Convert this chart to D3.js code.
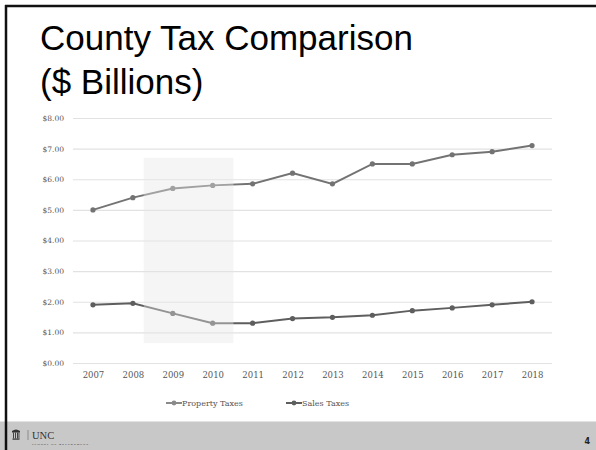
<!DOCTYPE html>
<html>
<head>
<meta charset="utf-8">
<script src="https://cdn.jsdelivr.net/npm/d3@7"></script>
<style>
  body { margin: 0; background: #fff; }
  svg { display: block; }
  .tick text { font-family: "DejaVu Serif", serif; fill: #555; }
</style>
</head>
<body>
<svg id="slide" width="596" height="450"></svg>
<script>
// data
const years = [2007, 2008, 2009, 2010, 2011, 2012, 2013, 2014, 2015, 2016, 2017, 2018];
const propertyTaxes = [5.0, 5.4, 5.7, 5.8, 5.85, 6.2, 5.85, 6.5, 6.5, 6.8, 6.9, 7.1];
const salesTaxes = [1.9, 1.95, 1.62, 1.3, 1.3, 1.45, 1.49, 1.56, 1.71, 1.8, 1.9, 2.0];
const yTicks = [0, 1, 2, 3, 4, 5, 6, 7, 8];
const seriesNames = ["Property Taxes", "Sales Taxes"];
// recession shading (years, dollars)
const shadeYears = [2008.27, 2010.52];
const shadeValues = [0.65, 6.7];

const svg = d3.select("#slide");

// slide frame
svg.append("rect").attr("x", 0).attr("y", 421.5).attr("width", 596).attr("height", 29).attr("fill", "#c8c8c8");
svg.append("line").attr("x1", 5).attr("x2", 596).attr("y1", 6).attr("y2", 6)
  .attr("stroke", "#111").attr("stroke-width", 2.5);
svg.append("line").attr("x1", 6).attr("x2", 6).attr("y1", 5).attr("y2", 450)
  .attr("stroke", "#111").attr("stroke-width", 2.5);

// title
const title = svg.append("text")
  .attr("font-family", "Liberation Sans, Arial, sans-serif")
  .attr("font-size", 35).attr("fill", "#000");
title.append("tspan").attr("x", 40).attr("y", 50).text("County Tax Comparison");
title.append("tspan").attr("x", 40).attr("y", 94).text("($ Billions)");

// chart
const x = d3.scaleLinear().domain([2006.5, 2018.5]).range([73, 552]);
const y = d3.scaleLinear().domain([0, 8]).range([363, 118]);

const yAxis = svg.append("g")
  .attr("transform", `translate(${x.range()[0]},0)`)
  .call(d3.axisLeft(y).tickValues(yTicks).tickFormat(d3.format("$.2f"))
    .tickSize(-(x.range()[1] - x.range()[0])).tickPadding(9));
yAxis.select(".domain").remove();
yAxis.selectAll(".tick line").attr("stroke", "#e2e2e2").attr("stroke-width", 1.2);
yAxis.selectAll(".tick text").attr("font-size", 7.5);

const xAxis = svg.append("g")
  .attr("transform", `translate(0,${y(0)})`)
  .call(d3.axisBottom(x).tickValues(years).tickFormat(d3.format("d")).tickSize(0).tickPadding(9));
xAxis.select(".domain").remove();
xAxis.selectAll(".tick text").attr("font-size", 8.5);

const line = d3.line().x((d, i) => x(years[i])).y(d => y(d));
const colors = ["#737373", "#5e5e5e"];

[propertyTaxes, salesTaxes].forEach((vals, k) => {
  svg.append("path").datum(vals)
    .attr("d", line).attr("fill", "none")
    .attr("stroke", colors[k]).attr("stroke-width", 2);
  svg.append("g").selectAll("circle").data(vals).join("circle")
    .attr("cx", (d, i) => x(years[i])).attr("cy", d => y(d))
    .attr("r", 2.6).attr("fill", colors[k]);
});

// shaded period on top
svg.append("rect")
  .attr("x", x(shadeYears[0])).attr("width", x(shadeYears[1]) - x(shadeYears[0]))
  .attr("y", y(shadeValues[1])).attr("height", y(shadeValues[0]) - y(shadeValues[1]))
  .attr("fill", "#e6e6e6").attr("opacity", 0.4);

// legend
const legendX = [166, 286];
seriesNames.forEach((name, k) => {
  const g = svg.append("g").attr("transform", `translate(${legendX[k]},403)`);
  g.append("line").attr("x1", 0).attr("x2", 16).attr("stroke", k ? "#5e5e5e" : "#8a8a8a").attr("stroke-width", 2);
  g.append("circle").attr("cx", 8).attr("r", 2.4).attr("fill", k ? "#5e5e5e" : "#8a8a8a");
  g.append("text").attr("x", 16).attr("dy", "0.35em")
    .attr("font-family", "DejaVu Serif, serif").attr("font-size", 8)
    .attr("fill", "#555").text(name);
});

// footer logo
const logo = svg.append("g").attr("transform", "translate(12,430)");
logo.append("rect").attr("x", 0).attr("y", 1).attr("width", 8).attr("height", 1.5).attr("fill", "#333");
logo.append("rect").attr("x", 0.5).attr("y", 8.5).attr("width", 7).attr("height", 1.2).attr("fill", "#333");
[1, 3, 5, 6.5].forEach(c => logo.append("rect").attr("x", c).attr("y", 2.5).attr("width", 0.9).attr("height", 6).attr("fill", "#333"));
logo.append("path").attr("d", "M0,1 Q4,-2 8,1").attr("fill", "#333");
svg.append("line").attr("x1", 28).attr("x2", 28).attr("y1", 430).attr("y2", 440)
  .attr("stroke", "#666").attr("stroke-width", 0.6);
svg.append("text").attr("x", 32).attr("y", 438.5)
  .attr("font-family", "Liberation Serif, serif").attr("font-size", 10.5)
  .attr("fill", "#333").text("UNC");
svg.append("text").attr("x", 32).attr("y", 444.5)
  .attr("font-family", "Liberation Serif, serif").attr("font-size", 2.8)
  .attr("font-weight", "bold").attr("fill", "#444").attr("textLength", 56).text("SCHOOL OF GOVERNMENT");

svg.append("text").attr("x", 590).attr("y", 444).attr("text-anchor", "end")
  .attr("font-family", "DejaVu Sans, sans-serif").attr("font-size", 8).attr("font-weight", "bold")
  .attr("fill", "#222").text("4");
</script>
</body>
</html>
